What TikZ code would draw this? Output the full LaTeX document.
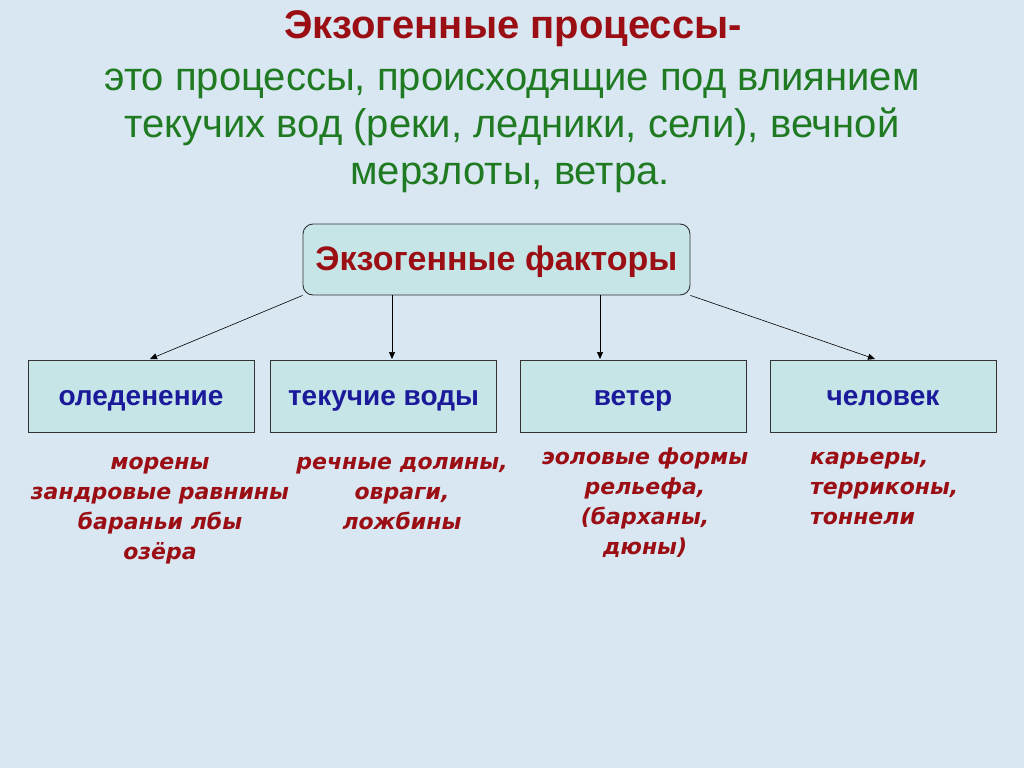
\documentclass[tikz,border=0pt]{standalone}
\usepackage{fontspec}
\setmainfont{Liberation Sans}
\newfontfamily\listfont{DejaVu Sans}
\usetikzlibrary{arrows.meta}
\definecolor{Bg}{HTML}{D8E7F2}
\definecolor{BoxFill}{HTML}{C6E5E7}
\definecolor{DRed}{HTML}{9A0E14}
\definecolor{DGreen}{HTML}{1F7A22}
\definecolor{DBlue}{HTML}{1A1A9A}
\tikzset{
    factor/.style={draw=black!80, line width=0.9pt, fill=BoxFill, minimum width=226pt, minimum height=72pt, inner sep=0pt,
        text height=22pt, text depth=4pt, text=DBlue, font=\fontsize{28}{32}\selectfont\bfseries},
    defline/.style={anchor=base, text=DGreen, font=\fontsize{40}{47}\selectfont},
    formlist/.style={anchor=north, align=center, text=DRed, font=\listfont\fontsize{22}{30}\selectfont\bfseries\itshape, inner sep=0pt},
    link/.style={draw=black, line width=0.6pt, -{Triangle[length=7pt, width=6pt]}}
}

\begin{document}
\begin{tikzpicture}[x=1pt, y=-1pt]

    \useasboundingbox[fill=Bg] (0,0) rectangle (1024,768);

    \node[anchor=base, text=DRed, font=\fontsize{40}{47}\selectfont\bfseries] (title) at (513,39) {Экзогенные процессы-};
    \node[defline] (def1) at (512,90) {это процессы, происходящие под влиянием};
    \node[defline] (def2) at (512,137) {текучих вод (реки, ледники, сели), вечной};
    \node[defline] (def3) at (510,184) {мерзлоты, ветра.};

    \node[draw=black!80, line width=0.9pt, fill=BoxFill, rounded corners=10pt, minimum width=387pt, minimum height=71pt,
        text height=27pt, text depth=6pt, text=DRed, font=\fontsize{34}{40}\selectfont\bfseries] (factors) at (496.5,259.5) {Экзогенные факторы};

    \node[factor] (ice) at (141,396) {оледенение};
    \node[factor] (water) at (383.5,396) {текучие воды};
    \node[factor] (wind) at (633,396) {ветер};
    \node[factor] (man) at (883,396) {человек};

    % arrow ends
    \coordinate (icetop) at (150,359);
    \coordinate (watertop) at (392,359);
    \coordinate (windtop) at (600,359);
    \coordinate (mantop) at (875,359);

    \draw[link] (factors.south west) -- (icetop);
    \draw[link] (factors.south -| watertop) -- (watertop);
    \draw[link] (factors.south -| windtop) -- (windtop);
    \draw[link] (factors.south east) -- (mantop);

    \node[formlist] (icelist) at (160,448) {\strut морены\\зандровые равнины\\бараньи лбы\\озёра};
    \node[formlist] (waterlist) at (402,448) {\strut речные долины,\\овраги,\\ложбины};
    \node[formlist] (windlist) at (645,443) {\strut эоловые формы\\рельефа,\\(барханы,\\дюны)};
    \node[formlist, anchor=north west, align=left] (manlist) at (810,443) {\strut карьеры,\\терриконы,\\тоннели};
\end{tikzpicture}
\end{document}
